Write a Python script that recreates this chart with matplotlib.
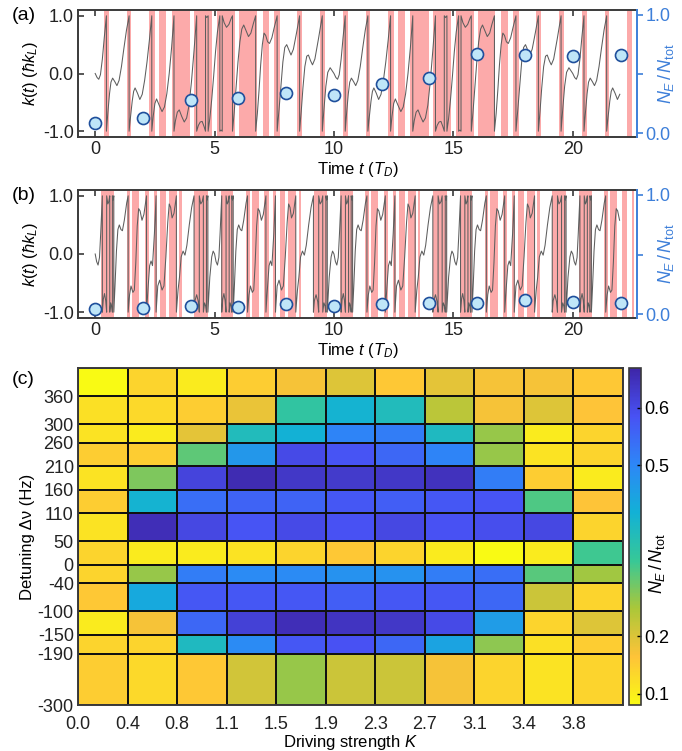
import numpy as np
import matplotlib
matplotlib.use("Agg")
import matplotlib.pyplot as plt
from matplotlib.colors import LinearSegmentedColormap, Normalize

plt.rcParams['font.family'] = ['Liberation Sans', 'DejaVu Sans']
plt.rcParams['mathtext.fontset'] = 'custom'
plt.rcParams['mathtext.rm'] = 'Liberation Sans'
plt.rcParams['mathtext.it'] = 'Liberation Sans:italic'
plt.rcParams['font.size'] = 10.5

# ---------------- data: panels (a) and (b) ----------------
dot_t = [0, 2, 4, 6, 8, 10, 12, 14, 16, 18, 20, 22]
dots_a = [0.085, 0.13, 0.28, 0.30, 0.34, 0.32, 0.415, 0.47, 0.67, 0.66, 0.655, 0.66]
dots_b = [0.048, 0.054, 0.074, 0.063, 0.083, 0.071, 0.083, 0.097, 0.097, 0.117, 0.105, 0.094]

cycle_starts_a = [0, 10, 20]
bands_a_cycle = [(0.38, 0.59), (1.33, 1.52), (2.26, 2.50), (2.68, 2.96), (3.20, 3.97),
                 (4.15, 4.90), (5.11, 5.85), (6.03, 6.76), (7.01, 7.29), (7.49, 7.74),
                 (8.46, 8.65), (9.41, 9.62)]
curve_a_t = [0.00, 0.08, 0.15, 0.22, 0.30, 0.38, 0.47, 0.47,
             0.53, 0.60, 0.66, 0.73, 0.82, 0.91, 1.00, 1.10, 1.20, 1.31, 1.42, 1.42,
             1.48, 1.55, 1.61, 1.67, 1.77, 1.87, 1.97, 2.07, 2.17, 2.27, 2.37, 2.37,
             2.43, 2.50, 2.57, 2.68, 2.80, 2.90, 3.00, 3.10, 3.20, 3.30, 3.30,
             3.36, 3.44, 3.52, 3.62, 3.73, 3.83, 3.93, 4.03, 4.14, 4.25, 4.25,
             4.32, 4.40, 4.48, 4.56, 4.62, 4.62, 4.67, 4.73, 4.73,
             4.80, 4.88, 4.96, 5.04, 5.12, 5.22, 5.22, 5.27, 5.32, 5.32,
             5.40, 5.50, 5.60, 5.70, 5.75, 5.75,
             5.82, 5.90, 5.98, 6.06, 6.14, 6.22, 6.32, 6.42, 6.52, 6.62, 6.72, 6.72,
             6.79, 6.86, 6.93, 7.00, 7.07, 7.14, 7.22, 7.30, 7.40, 7.50, 7.62, 7.62,
             7.70, 7.78, 7.86, 7.94, 8.02, 8.12, 8.20, 8.30, 8.43, 8.56, 8.56,
             8.63, 8.70, 8.78, 8.86, 8.93, 9.02, 9.10, 9.20, 9.35, 9.51, 9.51,
             9.58, 9.66, 9.74, 9.84, 9.92]
curve_a_k = [0.00, -0.07, -0.10, -0.02, 0.25, 0.62, 1.00, -1.00,
             -0.68, -0.35, -0.15, -0.08, -0.14, -0.21, -0.12, 0.12, 0.43, 0.75, 1.00, -1.00,
             -0.75, -0.48, -0.31, -0.25, -0.34, -0.45, -0.36, -0.12, 0.20, 0.58, 1.00, -1.00,
             -0.74, -0.52, -0.44, -0.55, -0.66, -0.58, -0.35, 0.00, 0.45, 1.00, -1.00,
             -0.82, -0.67, -0.63, -0.74, -0.84, -0.77, -0.55, -0.15, 0.40, 1.00, -1.00,
             -0.90, -0.84, -0.83, -0.92, -1.00, 1.00, 0.97, 1.00, -1.00,
             -0.78, -0.45, -0.05, 0.38, 0.72, 1.00, -1.00, -0.98, -1.00, 1.00,
             0.88, 0.80, 0.85, 0.96, 1.00, -1.00,
             -0.68, -0.25, 0.20, 0.55, 0.77, 0.84, 0.74, 0.64, 0.70, 0.86, 1.00, -1.00,
             -0.70, -0.30, 0.15, 0.50, 0.70, 0.66, 0.55, 0.52, 0.62, 0.80, 1.00, -1.00,
             -0.62, -0.20, 0.20, 0.45, 0.50, 0.40, 0.32, 0.42, 0.70, 1.00, -1.00,
             -0.65, -0.25, 0.12, 0.30, 0.32, 0.22, 0.15, 0.25, 0.60, 1.00, -1.00,
             -0.62, -0.22, 0.02, 0.10, 0.05]

# panel (b): repeats every 5 T_D
cycle_starts_b = [0, 5, 10, 15, 20]
bands_b_cycle = [(0.26, 0.79), (1.32, 1.47), (1.55, 1.85), (2.08, 2.26), (2.46, 2.58),
                 (2.72, 2.96), (3.08, 3.42), (3.52, 3.62), (4.15, 4.72)]
curve_b_t = [0.00, 0.06, 0.12, 0.18, 0.23, 0.28, 0.30, 0.30,
             0.34, 0.39, 0.44, 0.48, 0.48, 0.53, 0.57, 0.61, 0.61, 0.65, 0.69, 0.72, 0.72,
             0.75, 0.78, 0.78,
             0.83, 0.89, 0.95, 1.01, 1.08, 1.14, 1.22, 1.32, 1.38, 1.38,
             1.44, 1.50, 1.58, 1.64, 1.70, 1.76, 1.82, 1.88, 1.96, 2.04, 2.12, 2.15, 2.15,
             2.22, 2.28, 2.34, 2.40, 2.48, 2.55, 2.55,
             2.62, 2.70, 2.80, 2.88, 2.96, 3.04, 3.10, 3.16, 3.22, 3.30, 3.38, 3.40, 3.40,
             3.47, 3.53, 3.60, 3.68, 3.76, 3.84, 3.94, 4.04, 4.14, 4.14,
             4.18, 4.25, 4.32, 4.36, 4.36, 4.42, 4.48, 4.53, 4.53, 4.58, 4.63, 4.66, 4.66,
             4.69, 4.72, 4.72, 4.80, 4.88, 4.94]
curve_b_k = [0.00, -0.13, -0.19, -0.06, 0.35, 0.82, 1.00, -1.00,
             -0.78, -0.68, -0.80, -1.00, 1.00, 0.86, 0.90, 1.00, -1.00, -0.84, -0.90, -1.00, 1.00,
             0.93, 1.00, -1.00,
             -0.55, 0.05, 0.42, 0.50, 0.42, 0.40, 0.58, 0.88, 1.00, -1.00,
             -0.70, -0.55, -0.66, -0.62, -0.15, 0.48, 0.78, 0.74, 0.58, 0.68, 0.92, 1.00, -1.00,
             -0.55, -0.20, -0.12, -0.20, 0.35, 1.00, -1.00,
             -0.55, -0.45, -0.62, -0.55, -0.05, 0.55, 0.86, 0.80, 0.62, 0.70, 0.95, 1.00, -1.00,
             -0.62, -0.40, -0.05, 0.05, -0.02, 0.15, 0.50, 0.80, 1.00, -1.00,
             -0.80, -0.70, -0.82, -1.00, 1.00, 0.86, 0.90, 1.00, -1.00, -0.84, -0.90, -1.00, 1.00,
             0.93, 1.00, -1.00, -0.40, -0.05, 0.05]
t_end = 22.0

# ---------------- data: panel (c) ----------------
k_labels = ['0.0', '0.4', '0.8', '1.1', '1.5', '1.9', '2.3', '2.7', '3.1', '3.4', '3.8']
det_edges = [-300, -190, -150, -100, -40, 0, 50, 110, 160, 210, 260, 300, 360, 420]
det_labels = [360, 300, 260, 210, 160, 110, 50, 0, -40, -100, -150, -190, -300]
# rows listed from top (360..420 Hz) to bottom (-300..-190 Hz)
frac_rows_top_down = [
    [0.080, 0.139, 0.104, 0.151, 0.174, 0.198, 0.157, 0.192, 0.174, 0.174, 0.157],
    [0.121, 0.133, 0.151, 0.186, 0.346, 0.410, 0.381, 0.233, 0.174, 0.198, 0.163],
    [0.115, 0.104, 0.192, 0.381, 0.416, 0.505, 0.517, 0.387, 0.263, 0.104, 0.139],
    [0.151, 0.151, 0.304, 0.469, 0.599, 0.581, 0.552, 0.505, 0.263, 0.115, 0.139],
    [0.115, 0.281, 0.611, 0.658, 0.635, 0.629, 0.635, 0.646, 0.517, 0.151, 0.104],
    [0.151, 0.410, 0.540, 0.558, 0.558, 0.576, 0.564, 0.576, 0.581, 0.316, 0.163],
    [0.115, 0.652, 0.605, 0.581, 0.599, 0.587, 0.605, 0.587, 0.593, 0.605, 0.139],
    [0.139, 0.104, 0.104, 0.115, 0.139, 0.157, 0.139, 0.104, 0.080, 0.104, 0.328],
    [0.139, 0.263, 0.517, 0.493, 0.493, 0.481, 0.481, 0.517, 0.540, 0.310, 0.257],
    [0.157, 0.434, 0.576, 0.576, 0.576, 0.564, 0.576, 0.576, 0.552, 0.216, 0.139],
    [0.104, 0.174, 0.552, 0.617, 0.652, 0.641, 0.635, 0.599, 0.458, 0.139, 0.198],
    [0.139, 0.139, 0.387, 0.493, 0.576, 0.587, 0.552, 0.446, 0.269, 0.121, 0.151],
    [0.151, 0.133, 0.157, 0.210, 0.263, 0.216, 0.216, 0.174, 0.139, 0.115, 0.139],
]
cbar_ticks = [0.1, 0.2, 0.5, 0.6]

# parula-like colormap (reversed: yellow = low, dark blue = high)
parula_anchors = ['#3e26a8', '#4852f4', '#2d87f7', '#12b1d6', '#37c897',
                  '#abc739', '#fec338', '#f9fa14']
cmap = LinearSegmentedColormap.from_list('parula_r', parula_anchors[::-1])

# ---------------- figure ----------------
W, H = 682, 751
fig = plt.figure(figsize=(W / 100, H / 100), dpi=100)

def px_axes(l, t, r, b):
    return fig.add_axes([l / W, 1 - b / H, (r - l) / W, (b - t) / H])

spine_c = '#3a3a3a'
blue = '#3d7fd9'
band_c = '#fcaaaa'

def tile(starts, ct, ck):
    tt, kk = [], []
    for s in starts:
        for a, b in zip(ct, ck):
            if s + a <= t_end + 1e-9:
                tt.append(s + a)
                kk.append(b)
    return tt, kk

def kpanel(ax_rect, starts, bands, ct, ck, dots):
    ax = px_axes(*ax_rect)
    for s in starts:
        for (a, b) in bands:
            ax.axvspan(s + a, s + b, color=band_c, lw=0, zorder=0)
    tt, kk = tile(starts, ct, ck)
    ax.plot(tt, kk, color='#5e5e5e', lw=0.75, zorder=2)
    ax.set_xlim(-0.72, 22.69)
    ax.set_ylim(-1.1, 1.1)
    ax.set_yticks([-1, 0, 1])
    ax.set_yticklabels(['-1.0', '0.0', '1.0'])
    ax.set_xticks([0, 5, 10, 15, 20])
    ax.tick_params(direction='in', length=4, width=1.2, colors=spine_c, labelcolor='#222222',
                   top=True, labelsize=13, pad=3)
    for s in ax.spines.values():
        s.set_color(spine_c)
        s.set_linewidth(1.4)
    ax.spines['right'].set_visible(False)
    ax.set_ylabel(r'$k(t)$ ($\hbar k_L$)', fontsize=12, labelpad=2)
    ax.set_xlabel(r'Time $t$ ($T_D$)', fontsize=12, labelpad=1)
    ax2 = ax.twinx()
    ax2.set_ylim(-0.03, 1.04)
    ax2.scatter(dot_t, dots, s=75, facecolor='#bfe6f8', edgecolor='#1f4f9c', lw=1.2, zorder=5,
                clip_on=False)
    ax2.set_yticks([0, 0.5, 1.0])
    ax2.set_yticklabels(['0.0', '', '1.0'])
    ax2.tick_params(direction='out', length=4, width=1.2, colors=blue, labelsize=13, pad=2)
    for n, s in ax2.spines.items():
        s.set_visible(n == 'right')
    ax2.spines['right'].set_color(blue)
    ax2.spines['right'].set_linewidth(1.4)
    ax2.set_ylabel(r'$N_E\,/\,N_{\rm tot}$', color=blue, fontsize=13)
    ax2.yaxis.set_label_coords(1.034, 0.5)
    return ax

ax_a = kpanel((78, 10, 637, 137), cycle_starts_a, bands_a_cycle, curve_a_t, curve_a_k, dots_a)
ax_b = kpanel((78, 190, 637, 318), cycle_starts_b, bands_b_cycle, curve_b_t, curve_b_k, dots_b)
fig.text(12 / W, 1 - 16 / H, '(a)', fontsize=14, va='center', ha='left')
fig.text(12 / W, 1 - 196 / H, '(b)', fontsize=14, va='center', ha='left')
fig.text(12 / W, 1 - 380 / H, '(c)', fontsize=14, va='center', ha='left')

# heatmap
ax_c = px_axes(78, 368, 623, 705)
vals = np.flipud(np.array(frac_rows_top_down))
norm = Normalize(vmin=0.08, vmax=0.67)
mesh = ax_c.pcolormesh(np.arange(len(k_labels) + 1), det_edges, vals, cmap=cmap, norm=norm,
                       edgecolors='#111111', linewidth=1.3)
ax_c.set_xlim(0, len(k_labels))
ax_c.set_ylim(-300, 420)
ax_c.set_xticks(np.arange(len(k_labels)))
ax_c.set_xticklabels(k_labels)
ax_c.set_yticks(det_labels)
ax_c.set_yticklabels([str(v) for v in det_labels])
ax_c.tick_params(axis='x', length=0, labelsize=13, pad=8, labelcolor='#222222')
ax_c.tick_params(axis='y', length=0, labelsize=13, pad=3, labelcolor='#222222')
for s in ax_c.spines.values():
    s.set_color(spine_c)
    s.set_linewidth(1.4)
ax_c.set_xlabel(r'Driving strength $K$', fontsize=12, labelpad=0)
ax_c.set_ylabel('Detuning Δν (Hz)', fontsize=12, labelpad=2)

cax = px_axes(629, 368, 641, 705)
cb = fig.colorbar(mesh, cax=cax, ticks=cbar_ticks)
cb.ax.set_yticklabels(['0.1', '0.2', '0.5', '0.6'])
cb.ax.tick_params(length=3, width=1, labelsize=13, pad=2, direction='in')
cb.outline.set_edgecolor(spine_c)
cb.outline.set_linewidth(1.2)
cax.text(2.35, 0.42, r'$N_E\,/\,N_{\rm tot}$', rotation=90, transform=cax.transAxes,
         fontsize=13, ha='center', va='center')

fig.savefig('out.png', dpi=100)
